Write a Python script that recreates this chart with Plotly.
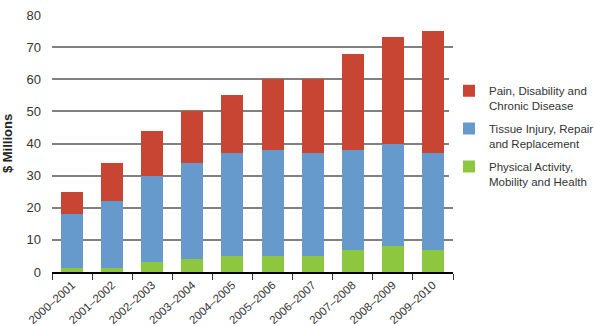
import plotly.graph_objects as go

categories = ["2000–2001", "2001–2002", "2002–2003", "2003–2004", "2004–2005",
              "2005–2006", "2006–2007", "2007–2008", "2008–2009", "2009–2010"]
physical = [1.3, 1.3, 3, 4, 5, 5, 5, 7, 8, 7]
tissue = [16.7, 20.7, 27, 30, 32, 33, 32, 31, 32, 30]
pain = [7, 12, 14, 16, 18, 22, 23, 30, 33, 38]

names = ["Physical Activity,<br>Mobility and Health",
         "Tissue Injury, Repair<br>and Replacement",
         "Pain, Disability and<br>Chronic Disease"]
colors = ["#8DC63F", "#6699CC", "#C84433"]
ranks = [3, 2, 1]

fig = go.Figure()
for vals, nm, c, r in zip([physical, tissue, pain], names, colors, ranks):
    fig.add_trace(go.Bar(x=categories, y=vals, name=nm, marker_color=c,
                         marker_line_width=0, legendgroup=f"g{r}", legendrank=r))

fig.update_layout(
    barmode="stack",
    bargap=0.45,
    width=595, height=326,
    margin=dict(l=52, r=142, t=15, b=54, autoexpand=False),
    plot_bgcolor="white", paper_bgcolor="white",
    font=dict(family="Liberation Sans, Arial, sans-serif", size=12, color="#333333"),
    legend=dict(traceorder="grouped", x=0.99, y=0.76, xanchor="left", yanchor="top",
                valign="top", font=dict(size=11.5, color="#333333"),
                itemwidth=30, tracegroupgap=5),
    xaxis=dict(tickangle=-42, showline=True, linecolor="black", linewidth=2,
               ticks="outside", tickson="boundaries", ticklen=6, tickcolor="#333333",
               tickfont=dict(size=11.5, color="#333333"), automargin=False),
    yaxis=dict(range=[0, 80], dtick=10, showgrid=True, gridcolor="#808080", gridwidth=1.5,
               zeroline=False, tickfont=dict(size=13, color="#333333"), ticks="",
               ticklabelstandoff=10, automargin=False,
               title=dict(text="<b>$ Millions</b>", font=dict(size=13, color="#222222"),
                          standoff=12)),
)

fig.write_html("out.html")
